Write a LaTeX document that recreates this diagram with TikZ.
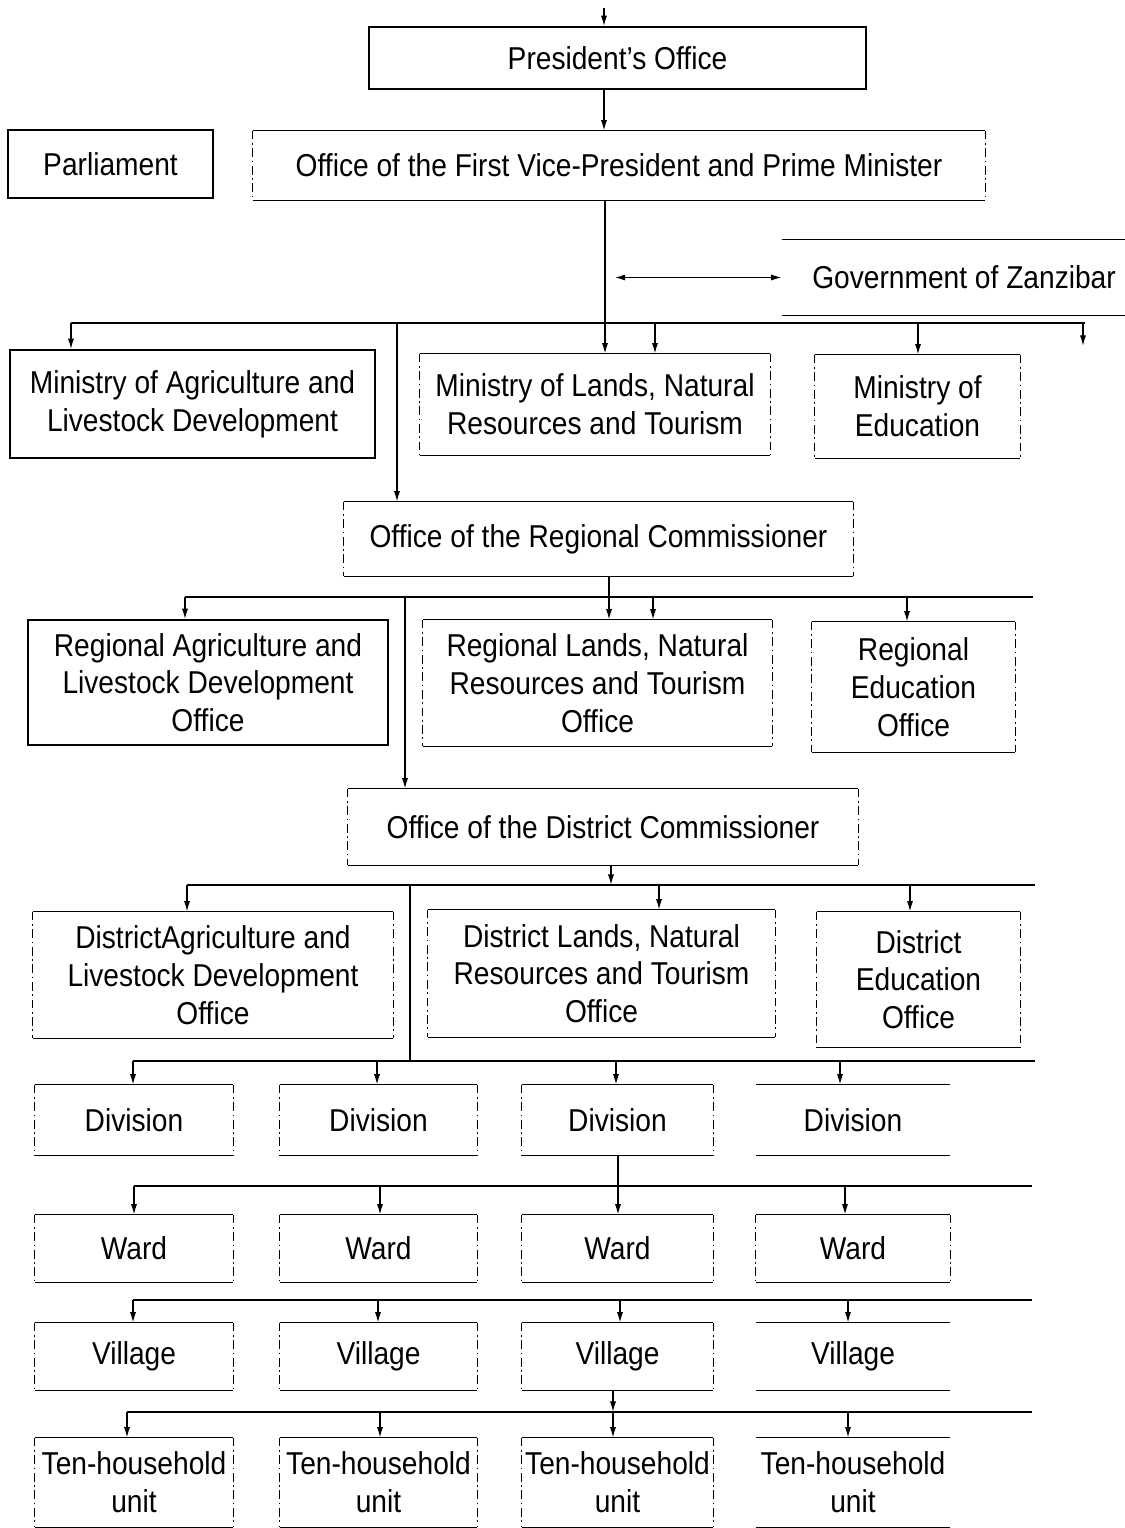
\documentclass[tikz,border=0pt]{standalone}
\usepackage{fontspec}
\setmainfont{Liberation Sans}[FakeStretch=0.89]
\usetikzlibrary{arrows.meta}
\tikzset{
  cell/.style 2 args={align=center, inner sep=0pt, minimum width=#1*0.02cm,
    minimum height=#2*0.02cm, font=\fontsize{18}{21.5}\selectfont},
  solidbox/.style={draw, line width=0.9pt},
  rule/.style={line width=0.9pt},
  side/.style={line width=0.6pt, dash pattern=on 5pt off 2pt on 1pt off 2pt},
  wire/.style={line width=0.8pt},
  arr/.style={wire, -{Latex[length=6pt,width=3.5pt]}},
  darr/.style={wire, {Latex[length=6pt,width=3.5pt]}-{Latex[length=6pt,width=3.5pt]}}
}
\begin{document}
\begin{tikzpicture}[x=0.02cm, y=-0.02cm]
    \useasboundingbox (0,0) rectangle (1125,1528);
    %% government
    \node[cell={497}{62}, solidbox] (pres) at (617.5,58) {President’s Office};
    \node[cell={205}{68}, solidbox] (parl) at (110.5,164) {Parliament};
    \node[cell={732}{69}] (vp) at (619,165.5) {Office of the First Vice-President and Prime Minister};
    \node[cell={343}{75}] (zan) at (953.5,277.5) {\hspace*{12pt}Government of Zanzibar};
    %% ministries
    \node[cell={365}{108}, solidbox] (minagr) at (192.5,404) {Ministry of Agriculture and\\Livestock Development};
    \node[cell={350}{101}] (minlands) at (595,404.5) {Ministry of Lands, Natural\\Resources and Tourism};
    \node[cell={205}{103}] (minedu) at (917.5,406.5) {Ministry of\\Education};
    %% region
    \node[cell={509}{74}] (rc) at (598.5,539) {Office of the Regional Commissioner};
    \node[cell={360}{125}, solidbox] (regagr) at (208,682.5) {Regional Agriculture and\\Livestock Development\\Office};
    \node[cell={349}{126}] (reglands) at (597.5,683) {Regional Lands, Natural\\Resources and Tourism\\Office};
    \node[cell={203}{130}] (regedu) at (913.5,687) {Regional\\Education\\Office};
    %% district
    \node[cell={510}{76}] (dc) at (603,827) {Office of the District Commissioner};
    \node[cell={360}{126}] (disagr) at (213,975) {DistrictAgriculture and\\Livestock Development\\Office};
    \node[cell={347}{127}] (dislands) at (601.5,973.5) {District Lands, Natural\\Resources and Tourism\\Office};
    \node[cell={203}{135}] (disedu) at (918.5,979.5) {District\\Education\\Office};
    %% local levels
    \foreach \i/\x/\w in {1/134/198,2/378.5/197,3/617.5/191,4/853/194} {
        \node[cell={\w}{70}] (div\i) at (\x,1120) {Division};
        \node[cell={\w}{67}] (ward\i) at (\x,1248.5) {Ward};
        \node[cell={\w}{67}] (vil\i) at (\x,1356.5) {Village};
        \node[cell={\w}{89}] (ten\i) at (\x,1482.5) {Ten-household\\unit};
    }
    %% open frames
    \foreach \n in {vp,minlands,minedu,rc,reglands,regedu,dc,disagr,dislands,disedu,
                    div1,div2,div3,ward1,ward2,ward3,ward4,vil1,vil2,vil3,ten1,ten2,ten3} {
        \draw[rule] (\n.north west) -- (\n.north east) (\n.south west) -- (\n.south east);
        \draw[side] (\n.north west) -- (\n.south west) (\n.north east) -- (\n.south east);
    }
    \foreach \n in {zan,div4,vil4,ten4}
        \draw[rule] (\n.north west) -- (\n.north east) (\n.south west) -- (\n.south east);

    %% top
    \coordinate (top) at (604,8);
    \draw[arr] (top) -- (top |- pres.north);
    \draw[arr] (pres.south -| top) -- (vp.north -| top);
    \draw[darr] (zan.west) -- ++(-167,0);
    %% ministries
    \draw[wire] (71,323) -- (1085,323);
    \draw[arr] (vp.south -| 605,0) -- (minlands.north -| 605,0);
    \foreach \x/\n in {71/minagr,655/minlands,918/minedu}
        \draw[arr] (\x,323) -- (\n.north -| \x,0);
    \coordinate (stub) at (1083,346);
    \draw[arr] (1083,323) -- (stub);
    \draw[arr] (397,323) -- (rc.north -| 397,0);
    %% region
    \draw[wire] (185,597) -- (1033,597);
    \draw[arr] (rc.south -| 609,0) -- (reglands.north -| 609,0);
    \foreach \x/\n in {185/regagr,653/reglands,907/regedu}
        \draw[arr] (\x,597) -- (\n.north -| \x,0);
    \draw[arr] (405,597) -- (dc.north -| 405,0);
    %% district
    \draw[wire] (187,885) -- (1035,885);
    \draw[arr] (dc.south -| 611,0) -- (611,885);
    \foreach \x/\n in {187/disagr,659/dislands,910/disedu}
        \draw[arr] (\x,885) -- (\n.north -| \x,0);
    \draw[wire] (410,885) -- (410,1061);
    %% divisions
    \draw[wire] (133,1061) -- (1035,1061);
    \foreach \i/\x in {1/133,2/377,3/616,4/840}
        \draw[arr] (\x,1061) -- (div\i.north -| \x,0);
    %% wards
    \draw[wire] (div3.south -| 618,0) -- (618,1186);
    \draw[wire] (134,1186) -- (1032,1186);
    \foreach \i/\x in {1/134,2/380,3/618,4/845}
        \draw[arr] (\x,1186) -- (ward\i.north -| \x,0);
    %% villages
    \draw[wire] (133,1300) -- (1032,1300);
    \foreach \i/\x in {1/133,2/378,3/620,4/848}
        \draw[arr] (\x,1300) -- (vil\i.north -| \x,0);
    %% ten-household units
    \draw[arr] (vil3.south -| 613,0) -- (613,1412);
    \draw[wire] (127,1412) -- (1032,1412);
    \foreach \i/\x in {1/127,2/380,3/613,4/848}
        \draw[arr] (\x,1412) -- (ten\i.north -| \x,0);
\end{tikzpicture}
\end{document}
